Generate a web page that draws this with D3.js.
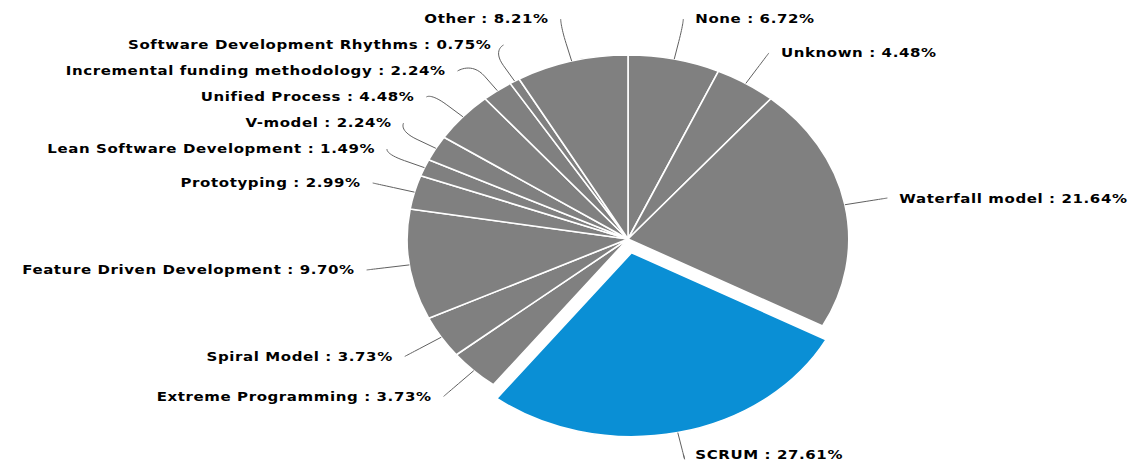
<!DOCTYPE html>
<html>
<head>
<meta charset="utf-8">
<script src="https://cdn.jsdelivr.net/npm/d3@7"></script>
<style>
  html, body { margin: 0; padding: 0; background: #fff; }
  svg { display: block; }
  .lbl { font-family: "DejaVu Sans", Verdana, sans-serif; font-weight: bold; font-size: 12.5px; letter-spacing: 0.5px; fill: #000; }
</style>
</head>
<body>
<svg id="chart" width="1144" height="474"></svg>
<script>
// Development methodologies and their share of answers (percent)
const categories = [
  "None", "Unknown", "Waterfall model", "SCRUM", "Extreme Programming",
  "Spiral Model", "Feature Driven Development", "Prototyping",
  "Lean Software Development", "V-model", "Unified Process",
  "Incremental funding methodology", "Software Development Rhythms", "Other"
];
const shares = [6.72, 4.48, 21.64, 27.61, 3.73, 3.73, 9.70, 2.99, 1.49, 2.24, 4.48, 2.24, 0.75, 8.21];
const slicedCategory = "SCRUM";

// layout
const radius = 184, labelDistance = 36, slicedOffset = 14, slotHeight = 26;
const stretchX = 1.2;            // pie is drawn as a wide ellipse
const centerX = 628, centerY = 239;
const colorGray = "#808080", colorSliced = "#0a8fd5";

const svg = d3.select("#chart");
const g = svg.append("g").attr("transform", `translate(${centerX},0) scale(${stretchX},1)`);

const data = categories.map((c, i) => ({ name: c, value: shares[i] }));
const pie = d3.pie().sort(null).value(d => d.value);
const arcs = pie(data);
const arc = d3.arc().innerRadius(0).outerRadius(radius);

const polar = (a, r) => [Math.sin(a) * r, centerY - Math.cos(a) * r];
const R = radius + labelDistance;

arcs.forEach(d => {
  d.mid = (d.startAngle + d.endAngle) / 2;
  d.sliced = d.data.name === slicedCategory;
  d.tx = d.sliced ? Math.sin(d.mid) * slicedOffset : 0;
  d.ty = d.sliced ? -Math.cos(d.mid) * slicedOffset : 0;
  d.left = d.mid > Math.PI;
  d.naturalY = centerY - Math.cos(d.mid) * R;
  const b = polar(d.mid, radius + labelDistance / 2);
  d.brk = [b[0] + d.tx, b[1] + d.ty];
  const l = polar(d.mid, radius);
  d.land = [l[0] + d.tx, l[1] + d.ty];
});

function getX(y, left) {
  const s = Math.max(-1, Math.min(1, (y - centerY) / R));
  return (left ? -1 : 1) * Math.cos(Math.asin(s)) * R;
}

// slot based anti-collision for each half of the pie
[false, true].forEach(left => {
  const pts = arcs.filter(d => d.left === left).sort((a, b) => a.naturalY - b.naturalY);
  const slots = [];
  for (let p = centerY - R; p <= centerY + R; p += slotHeight) slots.push(p);
  const n = slots.length, len = pts.length;
  const used = [];
  pts.forEach((pt, j) => {
    let best = 1e9, si = 0;
    slots.forEach((s, k) => {
      if (s === null) return;
      const dist = Math.abs(s - pt.naturalY);
      if (dist < best) { best = dist; si = k; }
    });
    if (si < j && slots[j] !== null) si = j;
    else if (n < len - j + si) { si = n - len + j; while (slots[si] === null) si++; }
    else { while (slots[si] === null) si++; }
    used.push({ pt, i: si, y: slots[si] });
    slots[si] = null;
  });
  used.forEach(u => {
    let y = u.y;
    const ny = u.pt.naturalY;
    if ((ny > y && slots[u.i + 1] !== null) || (ny < y && slots[u.i - 1] !== null)) y = ny;
    u.pt.ly = y;
    u.pt.lx = getX(u.i === 0 || u.i === n - 1 ? ny : y, left);
  });
});

// slices
g.selectAll("path.slice")
  .data(arcs)
  .join("path")
  .attr("class", "slice")
  .attr("transform", d => `translate(${d.tx},${centerY + d.ty})`)
  .attr("d", arc)
  .attr("fill", d => d.sliced ? colorSliced : colorGray)
  .attr("stroke", "#fff")
  .attr("stroke-width", 1.6)
  .attr("stroke-linejoin", "round")
  .attr("vector-effect", "non-scaling-stroke");

// connectors
g.selectAll("path.conn")
  .data(arcs)
  .join("path")
  .attr("class", "conn")
  .attr("fill", "none")
  .attr("stroke", "#606060")
  .attr("stroke-width", 1)
  .attr("vector-effect", "non-scaling-stroke")
  .attr("d", d => {
    const x = d.lx, y = d.ly;
    const c2 = [2 * d.brk[0] - d.land[0], 2 * d.brk[1] - d.land[1]];
    return `M${x},${y}C${x},${y} ${c2[0]},${c2[1]} ${d.brk[0]},${d.brk[1]}L${d.land[0]},${d.land[1]}`;
  });

// labels
g.selectAll("text.lbl")
  .data(arcs)
  .join("text")
  .attr("class", "lbl")
  .attr("x", d => d.lx + (d.left ? -10 : 10))
  .attr("y", d => d.ly)
  .attr("dy", "0.36em")
  .attr("text-anchor", d => d.left ? "end" : "start")
  .text(d => `${d.data.name} : ${d.data.value.toFixed(2)}%`);
</script>
</body>
</html>
